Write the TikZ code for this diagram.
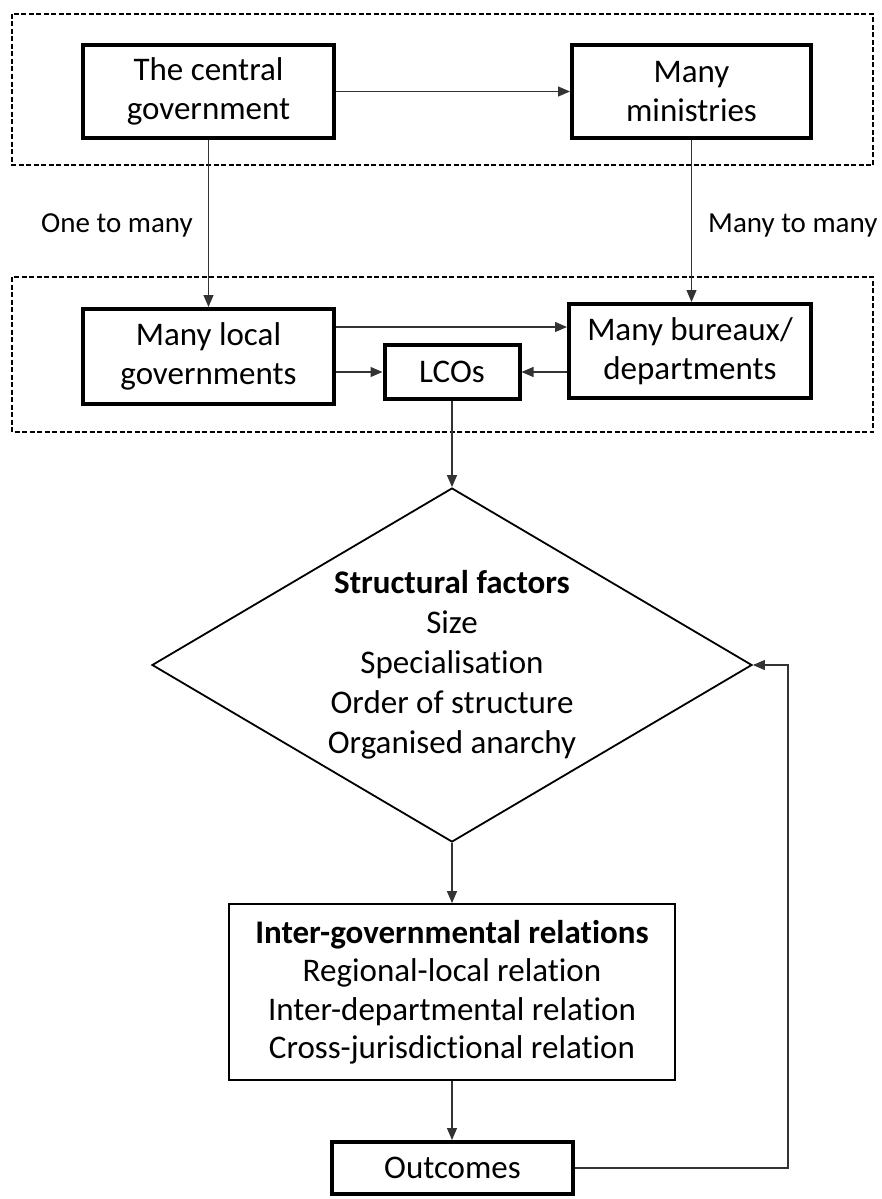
\documentclass[tikz,border=0pt]{standalone}
\usepackage{fontspec}
\setmainfont{Carlito}[Ligatures=NoCommon]
\usetikzlibrary{shapes.geometric,arrows.meta,positioning,calc}

\tikzset{
    box/.style={draw, line width=4pt, rectangle, inner sep=0pt, align=center,
        font=\fontsize{33}{39.5}\selectfont},
    listbox/.style={draw, line width=1.8pt, rectangle, inner sep=0pt, align=center,
        font=\fontsize{33}{38.5}\selectfont},
    conn/.style={draw=black!80, line width=1.1pt, -{Triangle[length=12pt,width=10pt]}},
    frame/.style={draw, line width=1.5pt, dash pattern=on 5pt off 2.5pt},
    lbl/.style={font=\fontsize{29}{34}\selectfont, inner sep=0pt}
}

\begin{document}
\begin{tikzpicture}[x=1pt, y=-1pt]
    \useasboundingbox (0,0) rectangle (881,1199);

    % Top level
    \draw[frame] (12,14) rectangle (873,165);
    \node[box, minimum width=251pt, minimum height=93pt] (central) at (208.5,91.5) {The central\\government};
    \node[box, minimum width=239pt, minimum height=93pt] (ministries) at (691.5,91.5) {Many\\ministries};
    \draw[conn] (central) -- (ministries);

    % Local level
    \draw[frame] (12,277) rectangle (873,432);
    \node[box, minimum width=251pt, minimum height=95pt] (local) at (208.5,356.5) {Many local\\governments};
    \node[box, minimum width=135pt, minimum height=54pt] (lcos) at (452,372) {LCOs};
    \node[box, minimum width=242pt, minimum height=94pt] (bureaux) at (690,351) {Many bureaux/\\departments};

    \draw[conn] (central.south) -- (local.north);
    \draw[conn] (ministries.south) -- (ministries.south |- bureaux.north);
    \node[lbl, anchor=base east] (onemany) at (193,232) {One to many};
    \node[lbl, anchor=base west] (manymany) at (708,232) {Many to many};

    \draw[conn] ([yshift=29.5pt]local.east) -- ([yshift=29.5pt]local.east -| bureaux.west);
    \draw[conn] (local.east |- lcos.west) -- (lcos.west);
    \draw[conn] (bureaux.west |- lcos.east) -- (lcos.east);

    % Factors and relations
    \node[draw, diamond, line width=1.8pt, inner sep=0pt, aspect=1.7,
        minimum width=600pt, minimum height=354pt, align=center,
        font=\fontsize{33}{40}\selectfont] (factors) at (452,665)
        {\textbf{Structural factors}\\Size\\Specialisation\\Order of structure\\Organised anarchy};
    \draw[conn] (lcos.south) -- (factors.north);

    \node[listbox, minimum width=446pt, minimum height=176pt] (igr) at (452,992)
        {\textbf{Inter-governmental relations}\\Regional-local relation\\Inter-departmental relation\\Cross-jurisdictional relation};
    \draw[conn] (factors.south) -- (igr.north);

    \node[box, minimum width=241pt, minimum height=52pt] (outcomes) at (452.5,1168) {Outcomes};
    \draw[conn] (igr.south) -- (igr.south |- outcomes.north);

    % Feedback loop
    \coordinate (back) at (788,0);
    \draw[conn] (outcomes.east) -- (outcomes.east -| back) |- (factors.east);
\end{tikzpicture}
\end{document}
